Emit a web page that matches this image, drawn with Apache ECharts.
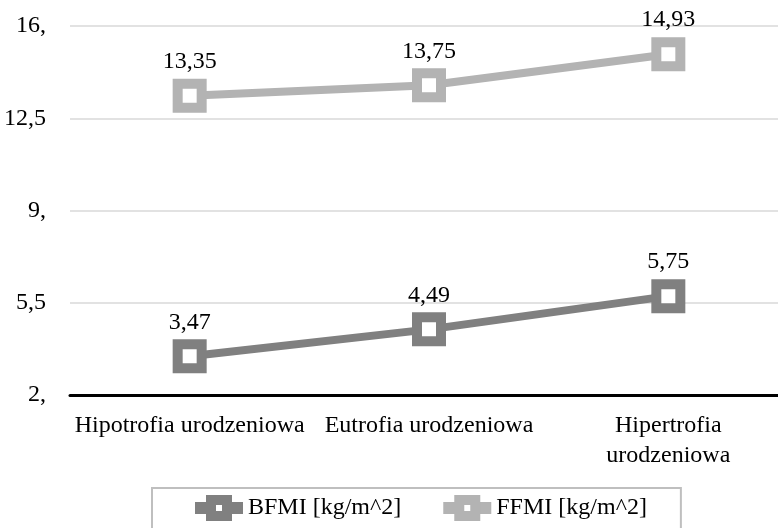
<!DOCTYPE html>
<html><head><meta charset="utf-8">
<script src="https://cdn.jsdelivr.net/npm/echarts@6/dist/echarts.min.js"></script>
<style>html,body{margin:0;padding:0;background:#fff}#c{width:778px;height:528px}</style>
</head><body><div id="c"></div>
<script>
var categories = ['Hipotrofia urodzeniowa', 'Eutrofia urodzeniowa', 'Hipertrofia urodzeniowa'];
var bfmi = [3.47, 4.49, 5.75];
var ffmi = [13.35, 13.75, 14.93];
var seriesNames = ['BFMI [kg/m^2]', 'FFMI [kg/m^2]'];
var yTicks = [2, 5.5, 9, 12.5, 16];

var font = '"Liberation Serif", "DejaVu Serif", serif';
function comma(v){ return String(v.toFixed(2)).replace('.', ','); }
function yFmt(v){ var s = String(v); return s.indexOf('.') >= 0 ? s.replace('.', ',') : s + ','; }

function mk(name, data, color){
  return {
    name: name, type: 'line', data: data,
    lineStyle: {color: color, width: 8},
    itemStyle: {color: '#fff', borderColor: color, borderWidth: 10},
    symbol: 'rect', symbolSize: 24,
    label: {show: true, position: 'top', distance: 5, fontFamily: font, fontSize: 24, color: '#000',
      formatter: function(p){ return comma(p.value); }},
    emphasis: {disabled: true},
    z: 3
  };
}

var chart = echarts.init(document.getElementById('c'));
chart.setOption({
  animation: false,
  textStyle: {fontFamily: font},
  grid: {left: 70, right: -10, top: 26, bottom: 133, outerBoundsMode: 'none', containLabel: false},
  legend: {
    top: 488, left: 152,
    data: seriesNames,
    itemWidth: 48, itemHeight: 20, itemGap: 36,
    padding: [7, 34, 30, 37],
    borderColor: '#bfbfbf', borderWidth: 2,
    textStyle: {fontFamily: font, fontSize: 24, color: '#000'},
    lineStyle: {width: 12},
    itemStyle: {borderWidth: 10}
  },
  xAxis: {
    type: 'category', data: categories, boundaryGap: true,
    axisLine: {lineStyle: {color: '#000', width: 3}},
    axisTick: {show: false},
    axisLabel: {fontFamily: font, fontSize: 24, color: '#000', margin: 16, lineHeight: 30, interval: 0,
      formatter: function(v, i){ return i === categories.length - 1 ? v.replace(' ', '\n') : v; }}
  },
  yAxis: {
    type: 'value', min: yTicks[0], max: yTicks[yTicks.length-1], interval: 3.5,
    axisLine: {show: false}, axisTick: {show: false},
    splitLine: {lineStyle: {color: '#d9d9d9', width: 1.5}},
    axisLabel: {fontFamily: font, fontSize: 24, color: '#000', margin: 24, formatter: yFmt}
  },
  series: [mk(seriesNames[0], bfmi, '#808080'), mk(seriesNames[1], ffmi, '#b3b3b3')]
});
</script></body></html>
